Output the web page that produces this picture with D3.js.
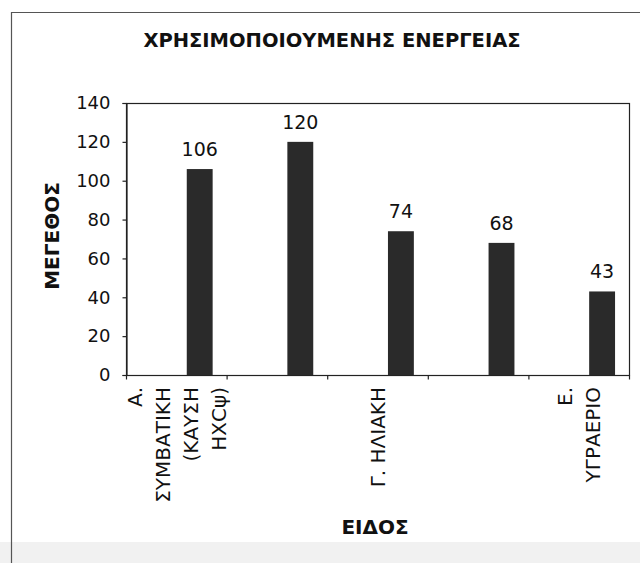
<!DOCTYPE html>
<html>
<head>
<meta charset="utf-8">
<script src="https://cdn.jsdelivr.net/npm/d3@7"></script>
<style>
  html, body { margin: 0; padding: 0; background: #ffffff; }
  svg { display: block; }
</style>
</head>
<body>
<script>
// ---- Data ----
const title = "ΧΡΗΣΙΜΟΠΟΙΟΥΜΕΝΗΣ ΕΝΕΡΓΕΙΑΣ";
const yTitle = "ΜΕΓΕΘΟΣ";
const xTitle = "ΕΙΔΟΣ";
const categories = ["Α", "Β", "Γ", "Δ", "Ε"];
const values = [106, 120, 74, 68, 43];
const categoryLabels = [
  ["Α.", "ΣΥΜΒΑΤΙΚΗ", "(ΚΑΥΣΗ", "ΗΧCψ)"],
  [],
  ["Γ. ΗΛΙΑΚΗ"],
  [],
  ["Ε.", "ΥΓΡΑΕΡΙΟ"]
];
const yTicks = [0, 20, 40, 60, 80, 100, 120, 140];

// ---- Layout ----
const W = 640, H = 563;
const plot = { left: 126, right: 629, top: 103, bottom: 375 };
const FONT = "'DejaVu Sans', Verdana, sans-serif";

const svg = d3.select("body").append("svg")
  .attr("width", W).attr("height", H);

svg.append("rect").attr("x", 0).attr("y", 0).attr("width", W).attr("height", H).attr("fill", "#fff");
// light gray band at the bottom (scan background)
svg.append("rect").attr("x", 0).attr("y", 542).attr("width", W).attr("height", H - 542).attr("fill", "#f1f1f1");
// outer frame (left + top)
svg.append("path")
  .attr("d", `M11.5,${H} L11.5,12.5 L${W},12.5`)
  .attr("fill", "none").attr("stroke", "#555").attr("stroke-width", 1.2);

const x = d3.scaleBand().domain(categories).range([plot.left, plot.right]).padding(0);
const sub = d3.scaleBand().domain(["s0", "s1"]).range([0, x.bandwidth()])
  .paddingInner(0.447).paddingOuter(0.298);
const y = d3.scaleLinear().domain([0, 140]).range([plot.bottom, plot.top]);

// plot box
svg.append("rect")
  .attr("x", plot.left + 0.5).attr("y", plot.top + 0.5)
  .attr("width", plot.right - plot.left).attr("height", plot.bottom - plot.top)
  .attr("fill", "none").attr("stroke", "#222").attr("stroke-width", 1.2);

// bars
svg.append("g").selectAll("rect").data(values).join("rect")
  .attr("x", (d, i) => x(categories[i]) + sub("s1"))
  .attr("y", d => y(d))
  .attr("width", sub.bandwidth())
  .attr("height", d => y(0) - y(d))
  .attr("fill", "#2a2a2a");

// value labels
svg.append("g").selectAll("text").data(values).join("text")
  .attr("x", (d, i) => x(categories[i]) + sub("s1") + sub.bandwidth() / 2)
  .attr("y", d => y(d) - 13)
  .attr("text-anchor", "middle")
  .attr("font-family", FONT).attr("font-size", 19).attr("fill", "#111")
  .text(d => d);

// y axis
const yAxis = svg.append("g")
  .attr("transform", `translate(${plot.left + 0.5},0)`)
  .call(d3.axisLeft(y).tickValues(yTicks).tickSize(4).tickPadding(12));
yAxis.select(".domain").attr("stroke", "#222").attr("stroke-width", 1.2);
yAxis.selectAll(".tick line").attr("stroke", "#222").attr("stroke-width", 1.2);
yAxis.selectAll(".tick text").attr("font-family", FONT).attr("font-size", 18).attr("fill", "#111");

// x axis (ticks at category boundaries)
const xAxisG = svg.append("g").attr("transform", `translate(0,${plot.bottom + 0.5})`);
xAxisG.append("line").attr("x1", plot.left).attr("x2", plot.right)
  .attr("stroke", "#222").attr("stroke-width", 1.2);
xAxisG.selectAll("line.t").data(categories).join("line").attr("class", "t")
  .attr("x1", d => x(d) + 0.5).attr("x2", d => x(d) + 0.5)
  .attr("y1", 0).attr("y2", 4).attr("stroke", "#222").attr("stroke-width", 1.2);
xAxisG.append("line").attr("x1", plot.right + 0.5).attr("x2", plot.right + 0.5)
  .attr("y1", 0).attr("y2", 4).attr("stroke", "#222").attr("stroke-width", 1.2);

// category labels (rotated)
const lineGap = 28;
categories.forEach((c, i) => {
  const lines = categoryLabels[i];
  const cx = x(c) + x.bandwidth() / 2;
  lines.forEach((ln, j) => {
    const lx = cx + (j - (lines.length - 1) / 2) * lineGap;
    svg.append("text")
      .attr("transform", `translate(${lx},387) rotate(-90)`)
      .attr("text-anchor", "end")
      .attr("dy", "0.36em")
      .attr("font-family", FONT).attr("font-size", 20).attr("fill", "#111")
      .text(ln);
  });
});

// titles
svg.append("text")
  .attr("x", 332).attr("y", 47)
  .attr("text-anchor", "middle")
  .attr("font-family", FONT).attr("font-weight", "bold").attr("font-size", 19.5).attr("fill", "#111")
  .text(title);

svg.append("text")
  .attr("transform", `translate(52,236) rotate(-90)`)
  .attr("text-anchor", "middle").attr("dy", "0.36em")
  .attr("font-family", FONT).attr("font-weight", "bold").attr("font-size", 20).attr("fill", "#111")
  .text(yTitle);

svg.append("text")
  .attr("x", 375).attr("y", 534)
  .attr("text-anchor", "middle")
  .attr("font-family", FONT).attr("font-weight", "bold").attr("font-size", 20).attr("fill", "#111")
  .text(xTitle);
</script>
</body>
</html>
